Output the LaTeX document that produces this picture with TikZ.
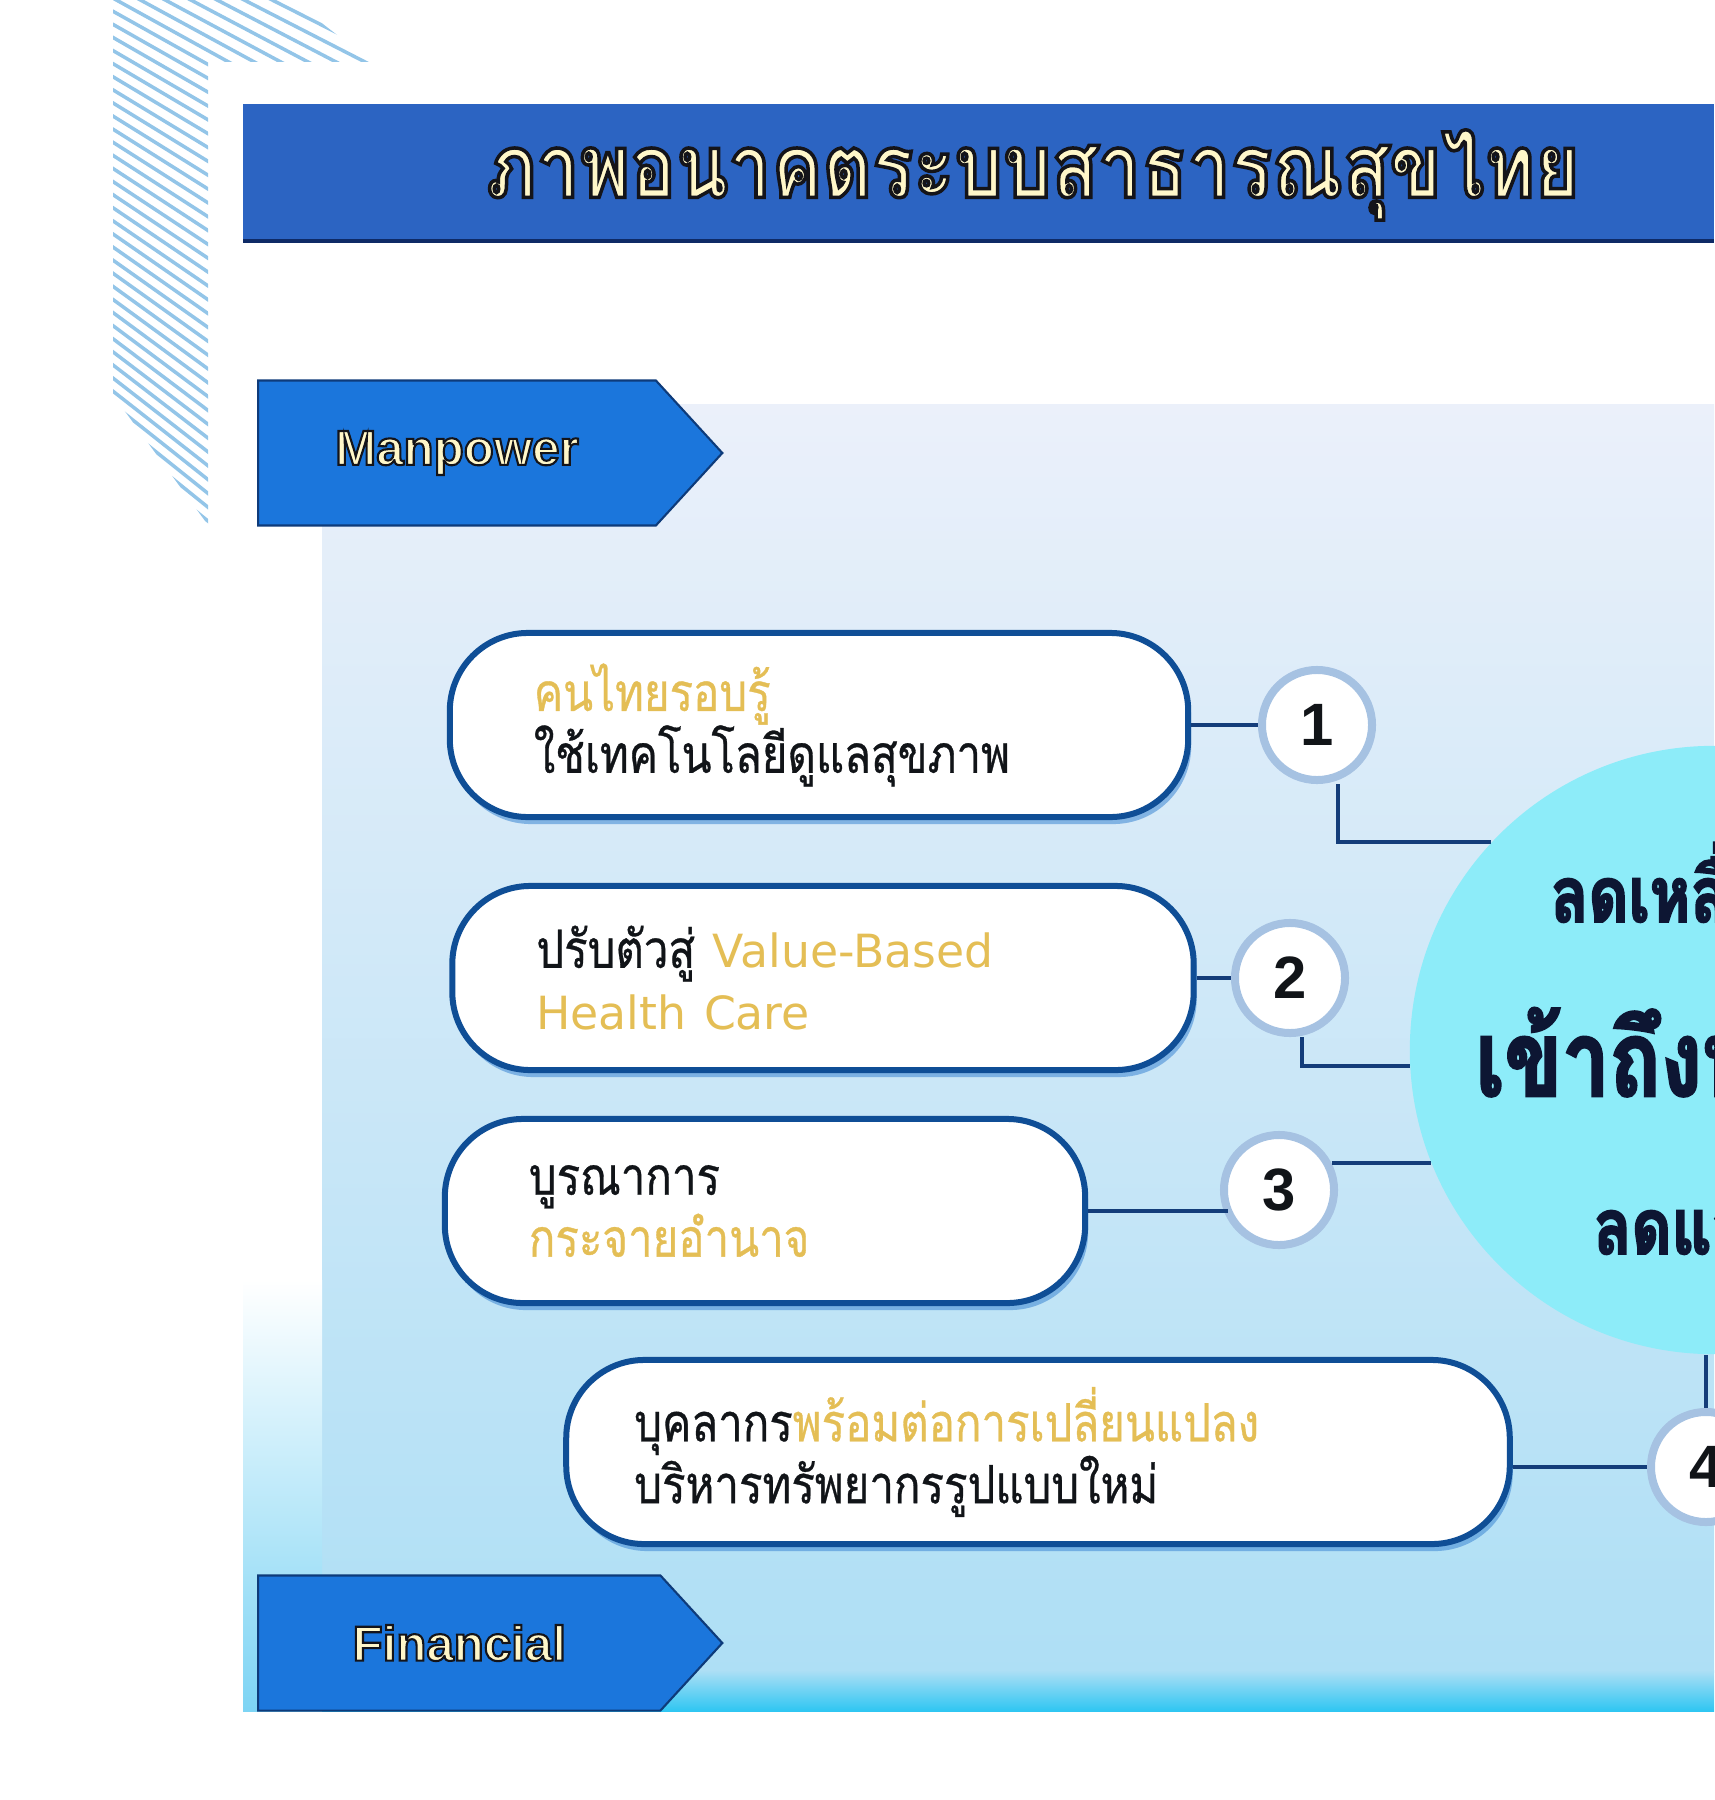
\documentclass[tikz,border=0pt]{standalone}
\usepackage{fontspec}
\usepackage{xcolor}
\usetikzlibrary{positioning, shapes.symbols, shadows, calc}
\setmainfont{DejaVu Sans}
\newfontfamily\thaifont{Loma}[Script=Thai, FakeStretch=0.83, FakeBold=0.6]
\newfontfamily\titlefont{Loma}[Script=Thai, FakeStretch=0.87]
\newfontfamily\hubfont{Loma}[Script=Thai, FakeStretch=0.8, FakeBold=2.5]
\newfontfamily\tagfont{Liberation Sans}
\newfontfamily\latinfont{DejaVu Sans}
\definecolor{cstripe}{HTML}{93C5E8}
\definecolor{cbar}{HTML}{2C64C2}
\definecolor{cbarline}{HTML}{0E2A66}
\definecolor{ctag}{HTML}{1B76DC}
\definecolor{ctagline}{HTML}{0E3B7A}
\definecolor{ccream}{HTML}{FFF7C9}
\definecolor{cgold}{HTML}{E4BE55}
\definecolor{cpill}{HTML}{0F4E96}
\definecolor{cshadow}{HTML}{3C86D3}
\definecolor{cring}{HTML}{A6C2E2}
\definecolor{clink}{HTML}{143D7A}
\definecolor{chub}{HTML}{8DECF9}
\definecolor{cpaneltop}{HTML}{EBF0FA}
\definecolor{cpanelmid}{HTML}{E0ECF9}
\definecolor{cpanelbot}{HTML}{AEDFF5}
\definecolor{cband}{HTML}{2FC6F2}
\definecolor{cstrip}{HTML}{7DD4F4}
\definecolor{cink}{HTML}{111418}
\definecolor{cnavy}{HTML}{0D1633}

\newcommand{\outlined}[2]{\special{pdf:literal direct 2 Tr #1 w 0.08 0.08 0.1 RG}#2\special{pdf:literal direct 0 Tr}}
\newcommand{\gold}[1]{\textcolor{cgold}{#1}}
\newcommand{\eng}[1]{{\latinfont\fontsize{13}{17.6}\selectfont #1}}

\begin{document}
\begin{tikzpicture}[
    x=0.01cm, y=-0.01cm,
    stripe/.style={draw=cstripe, line width=0.035cm},
    banner/.style={
        signal, signal to=east, signal pointer angle=95,
        fill=ctag, draw=ctagline, line width=0.6pt, anchor=west,
        minimum width=4.64cm, minimum height=1.45cm, inner sep=0pt,
        font=\tagfont\bfseries\fontsize{14}{16}\selectfont, text=ccream
    },
    pill/.style={
        rectangle, rounded corners=0.78cm, draw=cpill, line width=0.06cm,
        fill=white, minimum height=1.84cm, inner xsep=0.84cm, align=left,
        text=cink, font=\thaifont\fontsize{15}{17.6}\selectfont,
        drop shadow={shadow xshift=0.03cm, shadow yshift=-0.07cm,
            fill=cshadow, opacity=0.55}
    },
    num/.style={
        circle, fill=white, draw=cring, line width=0.08cm,
        minimum size=1.1cm, inner sep=0pt, text=cink,
        font=\tagfont\bfseries\fontsize{17}{17}\selectfont,
        drop shadow={shadow xshift=0.02cm, shadow yshift=-0.03cm,
            fill=cring, opacity=0.5}
    },
    hub/.style={circle, fill=chub, minimum size=6.08cm, inner sep=0pt},
    hubtext/.style={text=cnavy, inner sep=0pt,
        font=\hubfont\bfseries\fontsize{22}{24}\selectfont},
    link/.style={draw=clink, line width=0.04cm},
]
\useasboundingbox (0,0) rectangle (1714,1800);

% --- hatching, top left ------------------------------------------------------
\begin{scope}
    \clip (113,0) -- (292,0) -- (372,62) -- (208,62) -- (208,525)
        -- (113,395) -- cycle;
    \foreach \i in {0,...,58} {
        \pgfmathsetmacro{\slope}{0.42+0.45*\i/58}
        \draw[stripe] (100,{-230+13*\i}) -- ++(300,{300*\slope});
    }
\end{scope}

% --- panel ----------------------------------------------------------------------
\shade[top color=cpaneltop, middle color=cpanelmid, bottom color=cpanelbot]
    (322,404) rectangle (1714,1672);
\shade[top color=cpanelbot, bottom color=cband] (322,1670) rectangle (1714,1711);
\shade[top color=white, bottom color=cstrip] (243,1280) rectangle (322,1711);

% --- title bar ------------------------------------------------------------------
\fill[cbar] (243,104) rectangle (1714,243);
\draw[cbarline, line width=0.045cm] (243,241) -- (1714,241);
\node[text=ccream, font=\titlefont\bfseries\fontsize{25}{27}\selectfont]
    (title) at (1033,175) {\outlined{1.0}{ภาพอนาคตระบบสาธารณสุขไทย}};

% --- tags -----------------------------------------------------------------------
\node[banner] (manpower) at (257,453) {\outlined{0.6}{Manpower}};
\node[banner, minimum height=1.35cm] (financial) at (257,1643)
    {\outlined{0.6}{Financial}};

% --- hub ------------------------------------------------------------------------
\node[hub] (hub) at (1714,1050) {};
\node[hubtext, anchor=base west] (goal1) at (1550,922) {ลดเหลื่อมล้ำ};
\node[hubtext, anchor=base west, font=\hubfont\bfseries\fontsize{30}{32}\selectfont]
    (goal2) at (1475,1096) {เข้าถึงบริการ};
\node[hubtext, anchor=base west] (goal3) at (1593,1254) {ลดแออัด};

% --- pills ----------------------------------------------------------------------
\node[pill, text width=5.70cm] (p1) at (819,725)
    {\gold{คนไทยรอบรู้}\\ใช้เทคโนโลยีดูแลสุขภาพ};
\node[pill, text width=5.73cm] (p2) at (823,978)
    {ปรับตัวสู่ \gold{\eng{Value-Based}}\\\gold{\eng{Health Care}}};
\node[pill, text width=4.72cm] (p3) at (765,1211)
    {บูรณาการ\\\gold{กระจายอำนาจ}};
\node[pill, inner xsep=0.68cm, text width=8.07cm] (p4) at (1038,1452)
    {บุคลากร\gold{พร้อมต่อการเปลี่ยนแปลง}\\บริหารทรัพยากรรูปแบบใหม่};

% --- numbers --------------------------------------------------------------------
\node[num] (n1) at (1317,725) {1};
\node[num] (n2) at (1290,978) {2};
\node[num] (n3) at (1279,1190) {3};
\node[num] (n4) at (1706,1467) {4};

% --- links ----------------------------------------------------------------------
\draw[link] (p1.east) -- (n1.west);
\draw[link] ([xshift=0.21cm]n1.south) |- (hub.137);
\draw[link] (p2.east) -- (n2.west);
\draw[link] ([xshift=0.12cm]n2.south) |- (hub.183);
\draw[link] (p3.east) -- (p3.east -| n3.210);
\draw[link] (n3.27) -- (n3.27 -| hub.202);
\draw[link] (n4.west) -- (n4.west -| p4.east);
\draw[link] (n4.north) -- (n4.north |- hub.south);

\end{tikzpicture}
\end{document}
